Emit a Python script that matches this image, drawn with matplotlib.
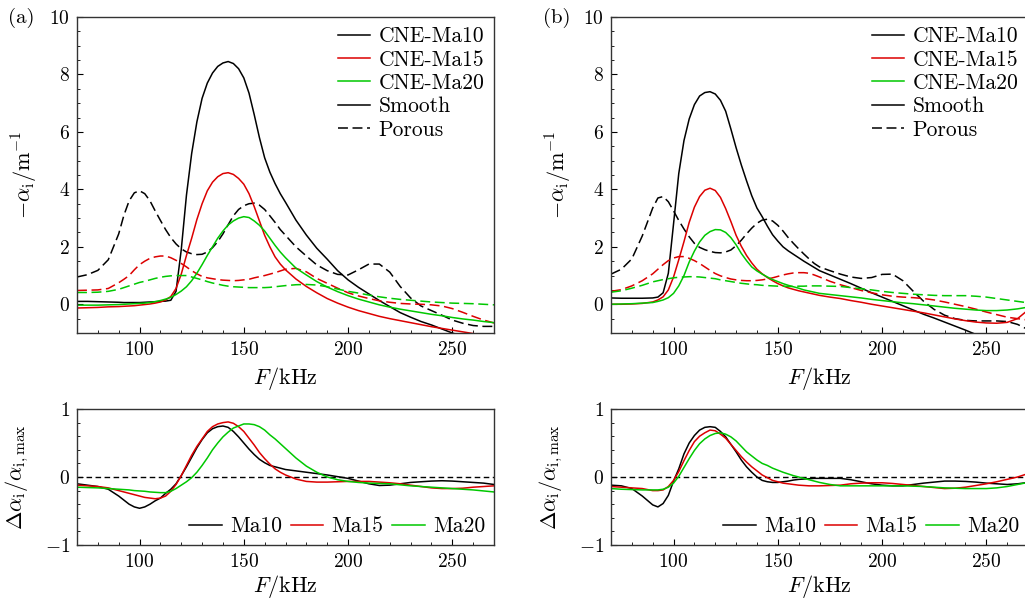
import matplotlib
matplotlib.use("Agg")
import matplotlib.pyplot as plt
from matplotlib.lines import Line2D
from matplotlib.ticker import MultipleLocator

plt.rcParams.update({
    "font.family": ["cmr10", "DejaVu Serif"],
    "mathtext.fontset": "cm",
    "axes.formatter.use_mathtext": True,
    "font.size": 14,
    "axes.labelsize": 16,
    "legend.fontsize": 15.5,
    "axes.linewidth": 1.0,
    "axes.edgecolor": "#333333",
    "xtick.direction": "in", "ytick.direction": "in",
    "xtick.major.size": 4, "ytick.major.size": 4,
    "xtick.minor.size": 2.5, "ytick.minor.size": 2.5,
    "xtick.major.pad": 6, "ytick.major.pad": 5,
})

BLACK = "#000000"
RED = "#dc0000"
GREEN = "#00c800"
DASH = (0, (6.5, 3))

# frequency grid (kHz), shared by every curve (finer around the peaks)
freq = [70, 75, 80, 85,
        90, 92.5, 95, 97.5, 100, 102.5, 105, 107.5, 110, 112.5, 115, 117.5, 120, 122.5,
        125, 127.5, 130, 132.5, 135, 137.5, 140, 142.5, 145, 147.5, 150, 152.5, 155, 157.5,
        160, 162.5, 165, 167.5, 170,
        175, 180, 185, 190, 195, 200, 205, 210, 215, 220, 225, 230, 235, 240, 245, 250,
        255, 260, 265, 270]

# ---- panel (a): -alpha_i (1/m) ----
a_smooth_ma10 = [0.10, 0.10, 0.09, 0.08,
                 0.07, 0.06, 0.06, 0.06, 0.06, 0.07, 0.08, 0.09, 0.10, 0.11, 0.14, 0.45, 1.9, 3.8,
                 5.25, 6.35, 7.17, 7.7, 8.05, 8.28, 8.4, 8.45, 8.38, 8.2, 7.88, 7.35, 6.6, 5.8,
                 5.1, 4.6, 4.2, 3.85, 3.55,
                 2.93, 2.41, 1.95, 1.57, 1.17, 0.85, 0.59, 0.36, 0.13, -0.08, -0.29, -0.45, -0.6,
                 -0.72, -0.86, -1.0, -1.12, -1.25, -1.38, -1.5]
a_smooth_ma15 = [-0.13, -0.12, -0.11, -0.09,
                 -0.08, -0.07, -0.06, -0.05, -0.03, -0.01, 0.01, 0.04, 0.08, 0.15, 0.27, 0.55, 1.05, 1.7,
                 2.3, 2.95, 3.5, 3.95, 4.25, 4.44, 4.55, 4.58, 4.52, 4.38, 4.18, 3.85, 3.4, 2.9,
                 2.4, 2.0, 1.65, 1.4, 1.2,
                 0.88, 0.62, 0.4, 0.2, 0.04, -0.1, -0.22, -0.32, -0.42, -0.5, -0.57, -0.64, -0.71,
                 -0.78, -0.84, -0.9, -0.96, -1.02, -1.08, -1.14]
a_smooth_ma20 = [-0.03, -0.03, -0.03, -0.02,
                 -0.01, 0.0, 0.01, 0.02, 0.03, 0.04, 0.06, 0.09, 0.13, 0.18, 0.24, 0.34, 0.46, 0.61,
                 0.82, 1.08, 1.38, 1.7, 2.0, 2.3, 2.55, 2.76, 2.9, 3.0, 3.05, 3.02, 2.9, 2.75,
                 2.55, 2.3, 2.05, 1.82, 1.62,
                 1.26, 1.02, 0.79, 0.6, 0.44, 0.3, 0.18, 0.08, -0.02, -0.1, -0.17, -0.23, -0.29,
                 -0.35, -0.4, -0.46, -0.51, -0.55, -0.6, -0.64]
a_porous_ma10 = [0.95, 1.03, 1.18, 1.55,
                 2.45, 3.1, 3.6, 3.88, 3.95, 3.85, 3.6, 3.25, 2.92, 2.6, 2.32, 2.1, 1.93, 1.82,
                 1.76, 1.73, 1.74, 1.82, 1.97, 2.18, 2.45, 2.77, 3.08, 3.3, 3.43, 3.5, 3.52, 3.45,
                 3.3, 3.08, 2.85, 2.6, 2.4,
                 2.0, 1.68, 1.37, 1.17, 1.04, 1.02, 1.2, 1.4, 1.4, 1.12, 0.62, 0.22, -0.06,
                 -0.22, -0.38, -0.55, -0.66, -0.74, -0.77, -0.77]
a_porous_ma15 = [0.48, 0.49, 0.5, 0.55,
                 0.75, 0.87, 1.0, 1.2, 1.38, 1.5, 1.6, 1.65, 1.68, 1.68, 1.62, 1.53, 1.42, 1.3,
                 1.17, 1.06, 0.97, 0.92, 0.89, 0.86, 0.84, 0.83, 0.82, 0.83, 0.85, 0.87, 0.92, 0.96,
                 1.0, 1.05, 1.1, 1.16, 1.22,
                 1.25, 1.13, 0.9, 0.73, 0.56, 0.4, 0.29, 0.2, 0.12, 0.07, 0.03, 0.01, 0.0,
                 -0.02, -0.06, -0.15, -0.28, -0.42, -0.55, -0.65]
a_porous_ma20 = [0.41, 0.41, 0.42, 0.45,
                 0.52, 0.58, 0.64, 0.7, 0.76, 0.8, 0.85, 0.9, 0.94, 0.97, 0.99, 1.0, 1.0, 1.0,
                 0.95, 0.9, 0.85, 0.79, 0.74, 0.7, 0.66, 0.63, 0.61, 0.6, 0.59, 0.58, 0.58, 0.58,
                 0.58, 0.59, 0.61, 0.63, 0.65,
                 0.68, 0.69, 0.67, 0.61, 0.53, 0.45, 0.39, 0.32, 0.26, 0.21, 0.17, 0.14, 0.11,
                 0.08, 0.06, 0.04, 0.03, 0.02, 0.0, -0.02]

# ---- panel (b) ----
b_smooth_ma10 = [0.22, 0.21, 0.21, 0.21,
                 0.22, 0.25, 0.4, 1.08, 2.8, 4.55, 5.7, 6.45, 6.95, 7.25, 7.37, 7.4, 7.32, 7.1,
                 6.72, 6.1, 5.45, 4.85, 4.3, 3.78, 3.35, 3.05, 2.72, 2.42, 2.2, 2.0, 1.86, 1.74,
                 1.62, 1.5, 1.39, 1.28, 1.17,
                 1.02, 0.87, 0.72, 0.56, 0.4, 0.25, 0.1, -0.05, -0.2, -0.35, -0.48, -0.62, -0.76,
                 -0.9, -1.05, -1.2, -1.35, -1.5, -1.65, -1.8]
b_smooth_ma15 = [0.0, 0.0, 0.01, 0.03,
                 0.08, 0.15, 0.26, 0.5, 0.95, 1.55, 2.18, 2.85, 3.38, 3.75, 3.97, 4.04, 3.96, 3.72,
                 3.33, 2.88, 2.4, 2.02, 1.7, 1.44, 1.22, 1.06, 0.93, 0.82, 0.72, 0.64, 0.57, 0.52,
                 0.47, 0.43, 0.39, 0.35, 0.31,
                 0.25, 0.2, 0.13, 0.07, 0.0, -0.06, -0.12, -0.18, -0.24, -0.3, -0.37, -0.44, -0.51,
                 -0.57, -0.62, -0.65, -0.66, -0.63, -0.5, -0.2]
b_smooth_ma20 = [0.0, 0.01, 0.02, 0.04,
                 0.06, 0.1, 0.15, 0.23, 0.38, 0.64, 1.0, 1.47, 1.85, 2.17, 2.4, 2.53, 2.6, 2.59,
                 2.5, 2.32, 2.07, 1.77, 1.52, 1.3, 1.16, 1.05, 0.95, 0.86, 0.79, 0.72, 0.66, 0.61,
                 0.56, 0.5, 0.46, 0.42, 0.38,
                 0.34, 0.3, 0.26, 0.22, 0.17, 0.13, 0.09, 0.05, 0.02, -0.02, -0.06, -0.1, -0.14,
                 -0.17, -0.2, -0.22, -0.22, -0.2, -0.16, -0.1]
b_porous_ma10 = [1.05, 1.22, 1.58, 2.38,
                 3.35, 3.7, 3.75, 3.57, 3.25, 2.92, 2.62, 2.35, 2.12, 1.98, 1.9, 1.84, 1.8, 1.79,
                 1.82, 1.89, 2.04, 2.23, 2.45, 2.65, 2.82, 2.93, 2.96, 2.9, 2.75, 2.55, 2.32, 2.12,
                 1.93, 1.75, 1.58, 1.42, 1.3,
                 1.17, 1.05, 0.95, 0.9, 0.93, 1.04, 1.05, 0.82, 0.45, 0.1, -0.18, -0.38, -0.5,
                 -0.56, -0.58, -0.58, -0.58, -0.6, -0.7, -0.88]
b_porous_ma15 = [0.45, 0.51, 0.64, 0.82,
                 1.06, 1.22, 1.38, 1.52, 1.61, 1.66, 1.66, 1.6, 1.52, 1.42, 1.3, 1.18, 1.07, 0.99,
                 0.93, 0.88, 0.85, 0.83, 0.82, 0.82, 0.83, 0.85, 0.88, 0.92, 0.97, 1.02, 1.06, 1.09,
                 1.1, 1.1, 1.08, 1.02, 0.95,
                 0.8, 0.68, 0.58, 0.48, 0.4, 0.33, 0.28, 0.25, 0.23, 0.2, 0.15, 0.08, 0.0,
                 -0.08, -0.17, -0.27, -0.36, -0.45, -0.5, -0.55]
b_porous_ma20 = [0.42, 0.47, 0.56, 0.66,
                 0.78, 0.82, 0.86, 0.89, 0.92, 0.94, 0.95, 0.96, 0.96, 0.95, 0.93, 0.91, 0.89, 0.85,
                 0.82, 0.79, 0.76, 0.73, 0.71, 0.69, 0.68, 0.66, 0.65, 0.64, 0.63, 0.63, 0.62, 0.62,
                 0.63, 0.63, 0.64, 0.64, 0.64,
                 0.63, 0.62, 0.58, 0.54, 0.5, 0.45, 0.41, 0.38, 0.35, 0.33, 0.31, 0.3, 0.3,
                 0.3, 0.28, 0.25, 0.2, 0.15, 0.1, 0.05]

# ---- relative difference d(alpha_i)/alpha_i,max ----
a_diff_ma10 = [-0.10, -0.12, -0.14, -0.18,
               -0.28, -0.34, -0.40, -0.44, -0.46, -0.44, -0.40, -0.35, -0.31, -0.24, -0.18, -0.1,
               0.02, 0.15, 0.29, 0.43, 0.55, 0.65, 0.71, 0.74, 0.75, 0.73, 0.67, 0.59, 0.5, 0.41,
               0.33, 0.26, 0.21, 0.17, 0.15, 0.13, 0.11,
               0.09, 0.07, 0.05, 0.03, 0.005, -0.02, -0.06, -0.10, -0.125, -0.12, -0.10, -0.08,
               -0.07, -0.06, -0.055, -0.06, -0.07, -0.08, -0.09, -0.11]
a_diff_ma15 = [-0.12, -0.13, -0.14, -0.16,
               -0.2, -0.22, -0.24, -0.26, -0.28, -0.3, -0.31, -0.32, -0.31, -0.28, -0.21, -0.11,
               0.02, 0.17, 0.32, 0.45, 0.56, 0.67, 0.74, 0.78, 0.8, 0.81, 0.79, 0.74, 0.67, 0.57,
               0.47, 0.36, 0.27, 0.19, 0.12, 0.07, 0.03,
               -0.03, -0.065, -0.075, -0.075, -0.07, -0.065, -0.065, -0.065, -0.075, -0.085, -0.1,
               -0.12, -0.14, -0.16, -0.17, -0.17, -0.165, -0.15, -0.14, -0.13]
a_diff_ma20 = [-0.15, -0.155, -0.16, -0.17,
               -0.18, -0.185, -0.19, -0.2, -0.205, -0.21, -0.22, -0.225, -0.23, -0.23, -0.21, -0.17,
               -0.12, -0.07, -0.01, 0.07, 0.17, 0.28, 0.4, 0.5, 0.59, 0.66, 0.72, 0.75, 0.78, 0.78,
               0.77, 0.74, 0.69, 0.62, 0.56, 0.49, 0.42,
               0.28, 0.16, 0.07, 0.0, -0.04, -0.065, -0.08, -0.09, -0.095, -0.10, -0.115, -0.13,
               -0.14, -0.15, -0.16, -0.17, -0.18, -0.19, -0.205, -0.22]
b_diff_ma10 = [-0.12, -0.13, -0.17, -0.28,
               -0.41, -0.44, -0.39, -0.27, -0.06, 0.12, 0.34, 0.5, 0.61, 0.69, 0.73, 0.74,
               0.73, 0.67, 0.59, 0.48, 0.37, 0.25, 0.15, 0.07, 0.0, -0.05, -0.07, -0.08, -0.08, -0.07,
               -0.06, -0.045, -0.035, -0.03, -0.025, -0.02, -0.02,
               -0.02, -0.02, -0.04, -0.07, -0.1, -0.12, -0.13, -0.13, -0.11, -0.09, -0.075, -0.06,
               -0.06, -0.065, -0.075, -0.09, -0.1, -0.11, -0.1, -0.08]
b_diff_ma15 = [-0.14, -0.15, -0.16, -0.17,
               -0.2, -0.2, -0.19, -0.14, -0.05, 0.08, 0.24, 0.39, 0.52, 0.6, 0.65, 0.69,
               0.68, 0.63, 0.57, 0.48, 0.39, 0.3, 0.22, 0.15, 0.09, 0.03, -0.01, -0.05, -0.07, -0.09,
               -0.1, -0.11, -0.12, -0.125, -0.13, -0.13, -0.13,
               -0.125, -0.12, -0.1, -0.09, -0.085, -0.085, -0.095, -0.11, -0.125, -0.14, -0.155,
               -0.17, -0.165, -0.15, -0.125, -0.10, -0.07, -0.035, 0.0, 0.05]
b_diff_ma20 = [-0.17, -0.18, -0.185, -0.19,
               -0.19, -0.19, -0.18, -0.15, -0.09, 0.01, 0.14, 0.27, 0.39, 0.49, 0.56, 0.61,
               0.64, 0.65, 0.63, 0.59, 0.53, 0.45, 0.37, 0.31, 0.25, 0.2, 0.17, 0.13, 0.1, 0.07,
               0.045, 0.02, 0.0, -0.02, -0.04, -0.06, -0.08,
               -0.11, -0.13, -0.13, -0.13, -0.13, -0.13, -0.13, -0.13, -0.135, -0.14, -0.15,
               -0.16, -0.165, -0.17, -0.17, -0.17, -0.16, -0.14, -0.11, -0.08]

colors = [BLACK, RED, GREEN]
mach = ["Ma10", "Ma15", "Ma20"]

fig = plt.figure(figsize=(10.25, 6.01), dpi=100)
W, H = 1025, 601


def px_axes(x0, y0, x1, y1):
    return fig.add_axes([x0 / W, 1 - y1 / H, (x1 - x0) / W, (y1 - y0) / H])


def style_axis(ax, ylim, ymajor, yminor, xlabelpad):
    ax.set_xlim(70, 270); ax.set_ylim(*ylim)
    ax.xaxis.set_major_locator(MultipleLocator(50)); ax.xaxis.set_minor_locator(MultipleLocator(10))
    ax.yaxis.set_major_locator(MultipleLocator(ymajor)); ax.yaxis.set_minor_locator(MultipleLocator(yminor))
    ax.tick_params(which="both", top=False, right=False)
    ax.set_xlabel("$F/\\mathrm{kHz}$", labelpad=xlabelpad)


panels = [
    (77, 494, "(a)", 8, [a_smooth_ma10, a_smooth_ma15, a_smooth_ma20],
     [a_porous_ma10, a_porous_ma15, a_porous_ma20], [a_diff_ma10, a_diff_ma15, a_diff_ma20]),
    (611, 1028, "(b)", 543, [b_smooth_ma10, b_smooth_ma15, b_smooth_ma20],
     [b_porous_ma10, b_porous_ma15, b_porous_ma20], [b_diff_ma10, b_diff_ma15, b_diff_ma20]),
]

for x0, x1, tag, tagx, smooth, porous, diff in panels:
    ax = px_axes(x0, 17, x1, 333)
    for c, s, p in zip(colors, smooth, porous):
        ax.plot(freq, p, color=c, lw=1.1, ls=DASH)
        ax.plot(freq, s, color=c, lw=1.1)
    style_axis(ax, (-1, 10), 2, 0.5, 4)
    ax.set_ylabel("$-\\alpha_{\\mathrm{i}}/\\mathrm{m}^{-1}$", labelpad=7)
    handles = [Line2D([], [], color=BLACK, lw=1.1), Line2D([], [], color=RED, lw=1.1),
               Line2D([], [], color=GREEN, lw=1.1), Line2D([], [], color=BLACK, lw=1.1),
               Line2D([], [], color=BLACK, lw=1.1, ls=DASH)]
    ax.legend(handles, ["CNE-Ma10", "CNE-Ma15", "CNE-Ma20", "Smooth", "Porous"],
              loc="upper right", frameon=False, handlelength=1.5, labelspacing=0.18,
              handletextpad=0.4, borderaxespad=0.05)
    fig.text(tagx / W, 1 - 18 / H, tag, ha="left", va="center", fontsize=15)

    bx = px_axes(x0, 409, x1, 545)
    bx.axhline(0, color=BLACK, lw=1.0, ls=(0, (4, 2.5)))
    for c, d, m in zip(colors, diff, mach):
        bx.plot(freq, d, color=c, lw=1.1, label=m)
    style_axis(bx, (-1, 1), 1, 0.2, 1)
    bx.set_ylabel("$\\Delta\\alpha_{\\mathrm{i}}/\\alpha_{\\mathrm{i,max}}$", labelpad=10)
    bx.legend(loc="lower right", ncol=3, frameon=False, handlelength=1.5, columnspacing=0.4,
              handletextpad=0.4, borderaxespad=0.0)

fig.savefig("out.png", dpi=100)
